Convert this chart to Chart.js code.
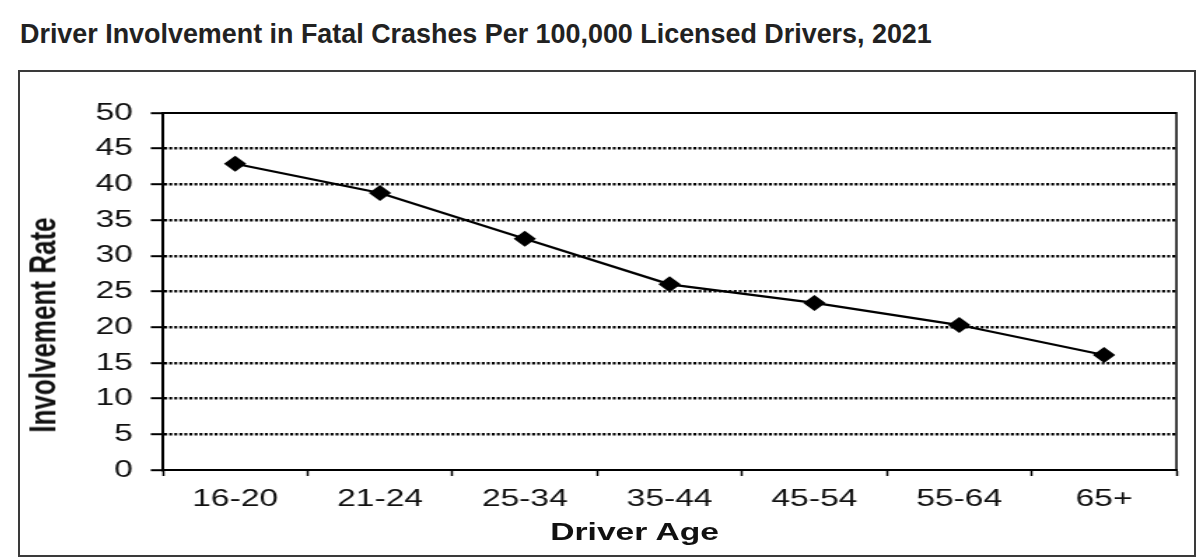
<!DOCTYPE html>
<html>
<head>
<meta charset="utf-8">
<script src="https://cdn.jsdelivr.net/npm/chart.js@4"></script>
<style>
  body { margin: 0; background: #fff; font-family: "Liberation Sans", Arial, sans-serif; }
  #title {
    position: absolute; left: 20px; top: 21px;
    font-size: 26.9px; line-height: 26.9px; font-weight: bold; color: #222;
    white-space: nowrap;
  }
  #box {
    position: absolute; left: 18px; top: 70px;
    width: 1174px; height: 483px;
    border: 2px solid #3a3a3a;
  }
  /* the original chart picture is stretched sideways, so is this one */
  #wrap {
    position: absolute; left: 0; top: 0;
    width: 839px; height: 482px;
    transform: scaleX(1.4); transform-origin: 0 0;
  }
  .axisTitle {
    position: absolute; font-weight: bold; color: #111;
    line-height: 1; white-space: nowrap;
  }
  #yTitle { left: 15.7px; top: 253px; font-size: 26px; transform: translate(-50%, -50%) rotate(-90deg); }
  #xTitle { left: 439px; top: 460px; font-size: 24px; transform: translate(-50%, -50%); }
</style>
</head>
<body>
<div id="title">Driver Involvement in Fatal Crashes Per 100,000 Licensed Drivers, 2021</div>
<div id="box">
  <div id="wrap">
    <canvas id="chart"></canvas>
    <div class="axisTitle" id="yTitle">Involvement Rate</div>
    <div class="axisTitle" id="xTitle">Driver Age</div>
  </div>
</div>
<script>
const ageGroups = ['16-20', '21-24', '25-34', '35-44', '45-54', '55-64', '65+'];
const involvementRates = [42.9, 38.8, 32.4, 26.0, 23.4, 20.3, 16.1];
const yMin = 0;
const yMax = 50;
const yStep = 5;

const fontFamily = '"Liberation Sans", Arial, sans-serif';

// top and right edges of the plot frame
const plotFrame = {
  id: 'plotFrame',
  afterDraw(chart) {
    const { ctx, chartArea: a } = chart;
    ctx.save();
    ctx.strokeStyle = '#000';
    ctx.lineWidth = 2;
    ctx.beginPath();
    ctx.moveTo(a.left, a.top);
    ctx.lineTo(a.right, a.top);
    ctx.stroke();
    ctx.lineWidth = 1.5;
    ctx.beginPath();
    ctx.moveTo(a.right, a.top - 1);
    ctx.lineTo(a.right, a.bottom);
    ctx.stroke();
    ctx.restore();
  },
};

new Chart(document.getElementById('chart'), {
  type: 'line',
  data: {
    labels: ageGroups,
    datasets: [{
      data: involvementRates,
      borderColor: '#000',
      borderWidth: 2.2,
      tension: 0,
      pointStyle: 'rectRot',
      pointRadius: 8,
      pointBackgroundColor: '#000',
      pointBorderColor: '#000',
      pointBorderWidth: 0,
    }],
  },
  options: {
    responsive: true,
    maintainAspectRatio: false,
    animation: false,
    layout: { padding: { top: 41, right: 13, left: 0, bottom: 0 } },
    plugins: {
      legend: { display: false },
      tooltip: { enabled: false },
    },
    scales: {
      x: {
        offset: true,
        grid: {
          offset: true,
          drawOnChartArea: false,
          drawTicks: true,
          tickLength: 6,
          tickColor: '#000',
          tickWidth: 1.5,
        },
        border: { display: true, color: '#000', width: 2 },
        ticks: {
          color: '#111',
          font: { family: fontFamily, size: 24 },
          padding: 9,
          maxRotation: 0,
          autoSkip: false,
        },
        afterFit: (scale) => { scale.height = 84; },
      },
      y: {
        min: yMin,
        max: yMax,
        ticks: {
          stepSize: yStep,
          color: '#111',
          font: { family: fontFamily, size: 24 },
          padding: 12.8,
        },
        grid: {
          color: (c) => (c.tick && (c.tick.value === yMin || c.tick.value === yMax)) ? 'rgba(0,0,0,0)' : '#000',
          lineWidth: 2.4,
          tickLength: 8.6,
          tickColor: '#000',
          tickWidth: 2,
        },
        border: { display: true, color: '#000', width: 2, dash: [2.1, 1.5] },
        afterFit: (scale) => { scale.width = 102; },
      },
    },
  },
  plugins: [plotFrame],
});
</script>
</body>
</html>
